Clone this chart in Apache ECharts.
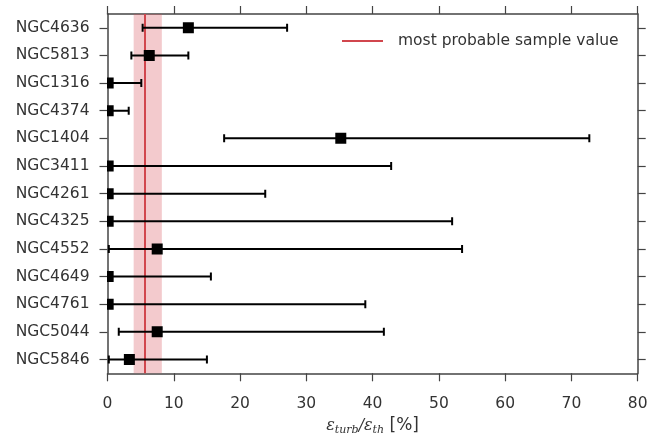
<!DOCTYPE html>
<html>
<head>
<meta charset="utf-8">
<script src="https://cdn.jsdelivr.net/npm/echarts@6/dist/echarts.min.js"></script>
<style>html,body{margin:0;padding:0;background:#fff}#c{width:671px;height:436px}</style>
</head>
<body>
<div id="c"></div>
<script>
const categories = ['NGC4636','NGC5813','NGC1316','NGC4374','NGC1404','NGC3411','NGC4261','NGC4325','NGC4552','NGC4649','NGC4761','NGC5044','NGC5846'];
const values = [12.2, 6.3, 0.1, 0.1, 35.2, 0.1, 0.1, 0.1, 7.5, 0.1, 0.1, 7.5, 3.3];
const lowerErr = [5.3, 3.6, 0, 0, 17.6, 0, 0, 0, 0.2, 0, 0, 1.7, 0.2];
const upperErr = [27.1, 12.2, 5.1, 3.2, 72.7, 42.8, 23.8, 52.0, 53.5, 15.6, 38.9, 41.7, 15.0];
const sampleValue = 5.6;
const sampleBand = [3.95, 8.2];
const xTicks = [0, 10, 20, 30, 40, 50, 60, 70, 80];

const errData = categories.map((c, i) => [i, lowerErr[i], values[i], upperErr[i]]);

const axisColor = '#444';
const textColor = '#333';
const font = 'DejaVu Sans';
const fs = 15.5;
function ticks(extra) {
  return Object.assign({show: true, inside: false, length: 8, lineStyle: {color: axisColor, width: 1.2}}, extra || {});
}

const chart = echarts.init(document.getElementById('c'), null, {renderer: 'canvas'});
chart.setOption({
  animation: false,
  textStyle: {fontFamily: font},
  grid: {left: 107.5, right: 33.3, top: 14, bottom: 62.7, containLabel: false, outerBoundsMode: 'none'},
  legend: {
    left: 337, top: 28,
    icon: 'rect', itemWidth: 41, itemHeight: 2,
    textStyle: {color: textColor, fontSize: fs, fontFamily: font, padding: [0, 0, 0, 10]},
    data: ['most probable sample value']
  },
  xAxis: [{
    type: 'value', gridIndex: 0, min: xTicks[0], max: xTicks[xTicks.length - 1], interval: 10, position: 'bottom',
    axisLine: {show: true, onZero: false, lineStyle: {color: axisColor, width: 1.5}},
    axisTick: ticks(),
    axisLabel: {color: textColor, fontSize: fs, margin: 23},
    splitLine: {show: false},
    name: '{e|ε}{s|turb}{e|/ε}{s|th}{p| [%]}',
    nameLocation: 'middle', nameGap: 43,
    nameTextStyle: {
      rich: {
        e: {fontFamily: 'DejaVu Serif', fontStyle: 'italic', fontSize: 16, color: textColor},
        s: {fontFamily: 'DejaVu Serif', fontStyle: 'italic', fontSize: 11, color: textColor, verticalAlign: 'bottom', padding: [8, 0, 0, 0]},
        p: {fontFamily: font, fontSize: 17, color: textColor}
      }
    }
  }, {
    type: 'value', gridIndex: 0, min: xTicks[0], max: xTicks[xTicks.length - 1], interval: 10, position: 'top',
    axisLine: {show: true, onZero: false, lineStyle: {color: axisColor, width: 1.5}},
    axisTick: ticks(),
    axisLabel: {show: false}, splitLine: {show: false}
  }],
  yAxis: [{
    type: 'category', gridIndex: 0, data: categories, inverse: true, position: 'left',
    axisLine: {show: true, onZero: false, lineStyle: {color: axisColor, width: 1.5}},
    axisTick: ticks({alignWithLabel: true}),
    axisLabel: {color: textColor, fontSize: fs, margin: 18},
    splitLine: {show: false}
  }, {
    type: 'category', gridIndex: 0, data: categories, inverse: true, position: 'right',
    axisLine: {show: true, onZero: false, lineStyle: {color: axisColor, width: 1.5}},
    axisTick: ticks({alignWithLabel: true}),
    axisLabel: {show: false}, splitLine: {show: false}
  }],
  series: [{
    name: 'most probable sample value',
    type: 'line', data: [], z: 1,
    color: '#d1464d',
    lineStyle: {color: '#d1464d', width: 2},
    markArea: {
      silent: true,
      itemStyle: {color: 'rgba(215,80,90,0.3)'},
      data: [[{xAxis: sampleBand[0]}, {xAxis: sampleBand[1]}]]
    },
    markLine: {
      silent: true, symbol: 'none',
      label: {show: false},
      lineStyle: {color: '#d1464d', width: 2, type: 'solid'},
      data: [{xAxis: sampleValue}]
    }
  }, {
    type: 'custom', z: 5, clip: true,
    data: errData,
    encode: {x: [1, 2, 3], y: 0},
    renderItem: function (params, api) {
      const cat = api.value(0);
      const p0 = api.coord([api.value(1), cat]);
      const p1 = api.coord([api.value(3), cat]);
      const pv = api.coord([api.value(2), cat]);
      const cap = 4;
      const s = 11;
      const st = {stroke: '#000', lineWidth: 2};
      return {
        type: 'group',
        children: [
          {type: 'line', shape: {x1: p0[0], y1: p0[1], x2: p1[0], y2: p1[1]}, style: st},
          {type: 'line', shape: {x1: p0[0], y1: p0[1] - cap, x2: p0[0], y2: p0[1] + cap}, style: st},
          {type: 'line', shape: {x1: p1[0], y1: p1[1] - cap, x2: p1[0], y2: p1[1] + cap}, style: st},
          {type: 'rect', shape: {x: pv[0] - s / 2, y: pv[1] - s / 2, width: s, height: s}, style: {fill: '#000'}}
        ]
      };
    }
  }]
});
</script>
</body>
</html>
